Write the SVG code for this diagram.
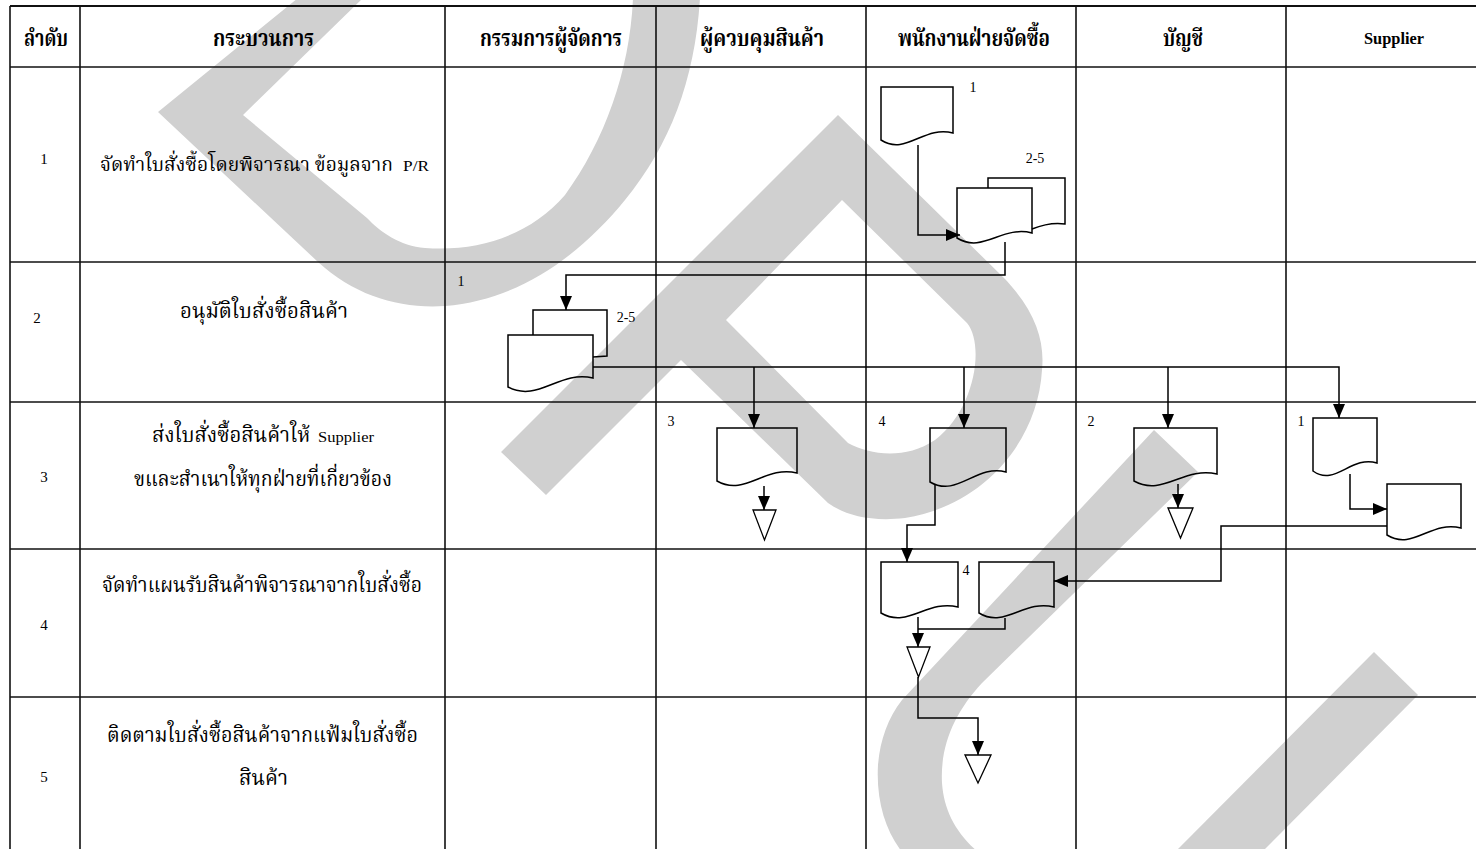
<svg xmlns="http://www.w3.org/2000/svg" width="1476" height="849" viewBox="0 0 1476 849">
  <style>
    .wm { fill: #d0d0d0; fill-rule: evenodd; }
    .grid { stroke: #111; stroke-width: 1.6; fill: none; }
    .ln { stroke: #000; stroke-width: 1.5; fill: none; }
    .doc { stroke: #000; stroke-width: 1.5; fill: none; }
    .tri { stroke: #000; stroke-width: 1.3; fill: none; }
    .hd { font-family: "Liberation Serif", "Noto Serif Thai", "Noto Sans Thai", serif; font-weight: bold; font-size: 23px; fill: #000; }
    .tx { font-family: "Liberation Serif", "Noto Serif Thai", "Noto Sans Thai", serif; font-size: 21px; fill: #000; }
    .sm { font-family: "Liberation Serif", serif; font-size: 15px; fill: #000; }
    .num { font-family: "Liberation Serif", serif; font-size: 15px; fill: #000; }
    .lb { font-family: "Liberation Serif", serif; font-size: 14px; fill: #000; }
  </style>
  <defs>
    <marker id="arr" markerUnits="userSpaceOnUse" markerWidth="14" markerHeight="12" refX="14" refY="6" orient="auto">
      <path d="M0,0 L14,6 L0,12 Z" fill="#000"/>
    </marker>
  </defs>

  <rect width="1476" height="849" fill="#fff"/>

  <!-- background mark shapes -->
  <g id="watermark">
    <path class="wm" d="M298,-2 L158,112 L318,262 C355,296 400,309 445,306 C520,300 580,255 625,200 C670,145 695,80 700,-2 L633,-2 C630,70 605,140 565,195 C530,235 480,252 425,248 C400,246 380,232 367,218 L243,115 L363,-2 Z"/>
    <path class="wm" d="M838,115 L1003,277 C1035,310 1045,340 1042,370 C1038,440 985,505 905,518 C870,522 845,515 828,503 L681,360 L546,495 L501,452 Z M842,200 L967,323 C985,345 975,410 935,440 C905,460 870,455 848,443 L726,320 Z"/>
    <path class="wm" d="M1154,430 L1198,472 L982,683 C955,712 940,745 942,783 C944,810 955,832 978,852 L902,852 C885,830 876,800 878,765 C880,740 888,718 902,700 Z"/>
    <path class="wm" d="M1374,652 L1418,695 L1262,852 L1175,852 Z"/>
  </g>

  <!-- table grid -->
  <g id="grid">
    <line class="grid" x1="10" y1="6" x2="1476" y2="6" style="stroke-width:2.2"/>
    <line class="grid" x1="10" y1="67" x2="1476" y2="67"/>
    <line class="grid" x1="10" y1="262" x2="1476" y2="262"/>
    <line class="grid" x1="10" y1="402" x2="1476" y2="402"/>
    <line class="grid" x1="10" y1="549" x2="1476" y2="549"/>
    <line class="grid" x1="10" y1="697" x2="1476" y2="697"/>
    <line class="grid" x1="10" y1="6" x2="10" y2="849"/>
    <line class="grid" x1="80" y1="6" x2="80" y2="849"/>
    <line class="grid" x1="445" y1="6" x2="445" y2="849"/>
    <line class="grid" x1="656" y1="6" x2="656" y2="849"/>
    <line class="grid" x1="866" y1="6" x2="866" y2="849"/>
    <line class="grid" x1="1076" y1="6" x2="1076" y2="849"/>
    <line class="grid" x1="1286" y1="6" x2="1286" y2="849"/>
  </g>

  <!-- column headings -->
  <g id="headers">
    <text class="hd" x="24" y="46" textLength="44" lengthAdjust="spacingAndGlyphs">ลำดับ</text>
    <text class="hd" x="213" y="46" textLength="101" lengthAdjust="spacingAndGlyphs">กระบวนการ</text>
    <text class="hd" x="480" y="46" textLength="142" lengthAdjust="spacingAndGlyphs">กรรมการผู้จัดการ</text>
    <text class="hd" x="700" y="46" textLength="124" lengthAdjust="spacingAndGlyphs">ผู้ควบคุมสินค้า</text>
    <text class="hd" x="898" y="46" textLength="152" lengthAdjust="spacingAndGlyphs">พนักงานฝ่ายจัดซื้อ</text>
    <text class="hd" x="1163" y="46" textLength="40" lengthAdjust="spacingAndGlyphs">บัญชี</text>
    <text class="hd" x="1364" y="44" style="font-size:16px" textLength="60" lengthAdjust="spacingAndGlyphs">Supplier</text>
  </g>

  <!-- step numbers and step descriptions -->
  <g id="step-1">
    <text class="num" x="44" y="164" text-anchor="middle">1</text>
    <text class="tx" x="100" y="171" style="font-size:19.5px" textLength="293" lengthAdjust="spacingAndGlyphs">จัดทำใบสั่งซื้อโดยพิจารณา ข้อมูลจาก</text>
    <text class="sm" x="403" y="171" textLength="26" lengthAdjust="spacingAndGlyphs">P/R</text>
  </g>
  <g id="step-2">
    <text class="num" x="37" y="323" text-anchor="middle">2</text>
    <text class="tx" x="180" y="318" textLength="168" lengthAdjust="spacingAndGlyphs">อนุมัติใบสั่งซื้อสินค้า</text>
  </g>
  <g id="step-3">
    <text class="num" x="44" y="482" text-anchor="middle">3</text>
    <text class="tx" x="152" y="442" textLength="158" lengthAdjust="spacingAndGlyphs">ส่งใบสั่งซื้อสินค้าให้</text>
    <text class="sm" x="318" y="442" textLength="56" lengthAdjust="spacingAndGlyphs">Supplier</text>
    <text class="tx" x="134" y="486" textLength="258" lengthAdjust="spacingAndGlyphs">ขและสำเนาให้ทุกฝ่ายที่เกี่ยวข้อง</text>
  </g>
  <g id="step-4">
    <text class="num" x="44" y="630" text-anchor="middle">4</text>
    <text class="tx" x="102" y="592" textLength="320" lengthAdjust="spacingAndGlyphs">จัดทำแผนรับสินค้าพิจารณาจากใบสั่งซื้อ</text>
  </g>
  <g id="step-5">
    <text class="num" x="44" y="782" text-anchor="middle">5</text>
    <text class="tx" x="107" y="742" textLength="311" lengthAdjust="spacingAndGlyphs">ติดตามใบสั่งซื้อสินค้าจากแฟ้มใบสั่งซื้อ</text>
    <text class="tx" x="239" y="785" textLength="49" lengthAdjust="spacingAndGlyphs">สินค้า</text>
  </g>

  <!-- connectors -->
  <g id="connectors">
    <path class="ln" d="M918,145 V235 H960" marker-end="url(#arr)"/>
    <path class="ln" d="M1005,242 V275 H566 V310" marker-end="url(#arr)"/>
    <path class="ln" d="M593,367 H1339 V418" marker-end="url(#arr)"/>
    <path class="ln" d="M754,367 V428" marker-end="url(#arr)"/>
    <path class="ln" d="M964,367 V428" marker-end="url(#arr)"/>
    <path class="ln" d="M1168,367 V428" marker-end="url(#arr)"/>
    <path class="ln" d="M764,486 V510" marker-end="url(#arr)"/>
    <path class="ln" d="M1178,484 V508" marker-end="url(#arr)"/>
    <path class="ln" d="M935,484 V525 H907 V562" marker-end="url(#arr)"/>
    <path class="ln" d="M1350,474 V509 H1387" marker-end="url(#arr)"/>
    <path class="ln" d="M1387,526 H1221 V581 H1054" marker-end="url(#arr)"/>
    <path class="ln" d="M1005,618 V629 H918"/>
    <path class="ln" d="M918,617 V647" marker-end="url(#arr)"/>
    <path class="ln" d="M918,677 V718 H978 V755" marker-end="url(#arr)"/>
  </g>

  <!-- purchasing: draft PO -->
  <g id="doc-pr">
    <path class="doc" d="M881,87 H953 V133 C924,125 906,156 881,140 Z"/>
    <text class="lb" x="973" y="92" text-anchor="middle">1</text>
  </g>
  <g id="doc-po-copies">
    <path class="doc" d="M988,188 V178 H1065 V224 C1052,222 1042,225 1032,229"/>
    <path class="doc" d="M957,188 H1032 V233 C1002,225 983,254 957,238 Z"/>
    <text class="lb" x="1035" y="163" text-anchor="middle">2-5</text>
  </g>

  <!-- managing director: approved PO -->
  <g id="doc-po-approved">
    <text class="lb" x="461" y="286" text-anchor="middle">1</text>
    <path class="doc" d="M533,335 V310 H607 V356 L593,357"/>
    <path class="doc" d="M508,335 H593 V378 C559,370 538,403 508,387 Z"/>
    <text class="lb" x="626" y="322" text-anchor="middle">2-5</text>
  </g>

  <!-- copies distributed -->
  <g id="copy-stock">
    <text class="lb" x="671" y="426" text-anchor="middle">3</text>
    <path class="doc" d="M717,428 H797 V473 C765,465 745,497 717,481 Z"/>
    <path class="tri" d="M753,510 H776 L764.5,540 Z"/>
  </g>
  <g id="copy-purchasing">
    <text class="lb" x="882" y="426" text-anchor="middle">4</text>
    <path class="doc" d="M930,428 H1006 V472 C976,464 957,498 930,482 Z"/>
  </g>
  <g id="copy-accounting">
    <text class="lb" x="1091" y="426" text-anchor="middle">2</text>
    <path class="doc" d="M1134,428 H1217 V474 C1184,466 1163,497 1134,481 Z"/>
    <path class="tri" d="M1168,508 H1193 L1180.5,538 Z"/>
  </g>
  <g id="copy-supplier">
    <text class="lb" x="1301" y="426" text-anchor="middle">1</text>
    <path class="doc" d="M1313,418 H1377 V463 C1351,455 1335,487 1313,471 Z"/>
  </g>
  <g id="doc-supplier-reply">
    <path class="doc" d="M1387,484 H1461 V528 C1431,520 1413,551 1387,535 Z"/>
  </g>

  <!-- receiving plan -->
  <g id="doc-plan">
    <path class="doc" d="M881,562 H958 V607 C927,599 908,629 881,613 Z"/>
  </g>
  <g id="doc-plan-copy">
    <text class="lb" x="966" y="575" text-anchor="middle">4</text>
    <path class="doc" d="M979,562 H1054 V607 C1024,599 1005,629 979,613 Z"/>
  </g>
  <g id="file-plan">
    <path class="tri" d="M907,647 H930 L918.5,677 Z"/>
  </g>
  <g id="file-followup">
    <path class="tri" d="M965,755 H991 L978,783 Z"/>
  </g>
</svg>
